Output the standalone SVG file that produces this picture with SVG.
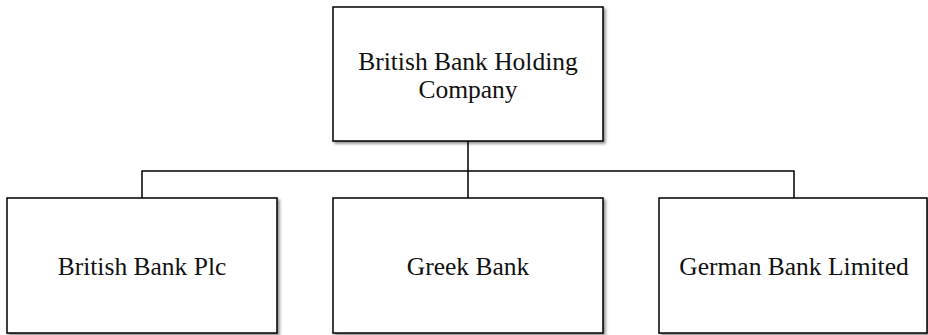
<svg xmlns="http://www.w3.org/2000/svg" width="928" height="335" viewBox="0 0 928 335">
<defs>
<filter id="sh" x="-5%" y="-5%" width="115%" height="115%">
<feGaussianBlur in="SourceAlpha" stdDeviation="1.5"/>
<feOffset dx="2" dy="2" result="b"/>
<feComponentTransfer><feFuncA type="linear" slope="0.45"/></feComponentTransfer>
<feMerge><feMergeNode/><feMergeNode in="SourceGraphic"/></feMerge>
</filter>
</defs>
<style>
.box{fill:#fff;stroke:#000;stroke-width:1.5;filter:url(#sh)}
.t{font-family:"Liberation Serif","Times New Roman",serif;font-size:25.5px;fill:#111;text-anchor:middle}
.c{fill:none;stroke:#000;stroke-width:1.5}
</style>
<rect width="928" height="335" fill="#fff"/>
<g id="connectors">
<path class="c" d="M468 141V198M142 198V171H794V198"/>
</g>
<g id="holding">
<rect class="box" x="333" y="7" width="270" height="134"/>
<text class="t" x="468" y="70">British Bank Holding</text>
<text class="t" x="468" y="98">Company</text>
</g>
<g id="plc">
<rect class="box" x="7" y="198" width="270" height="135"/>
<text class="t" x="142" y="275">British Bank Plc</text>
</g>
<g id="greek">
<rect class="box" x="333" y="198" width="270" height="135"/>
<text class="t" x="468" y="275">Greek Bank</text>
</g>
<g id="german">
<rect class="box" x="659" y="198" width="268" height="135"/>
<text class="t" x="794" y="275">German Bank Limited</text>
</g>
</svg>
